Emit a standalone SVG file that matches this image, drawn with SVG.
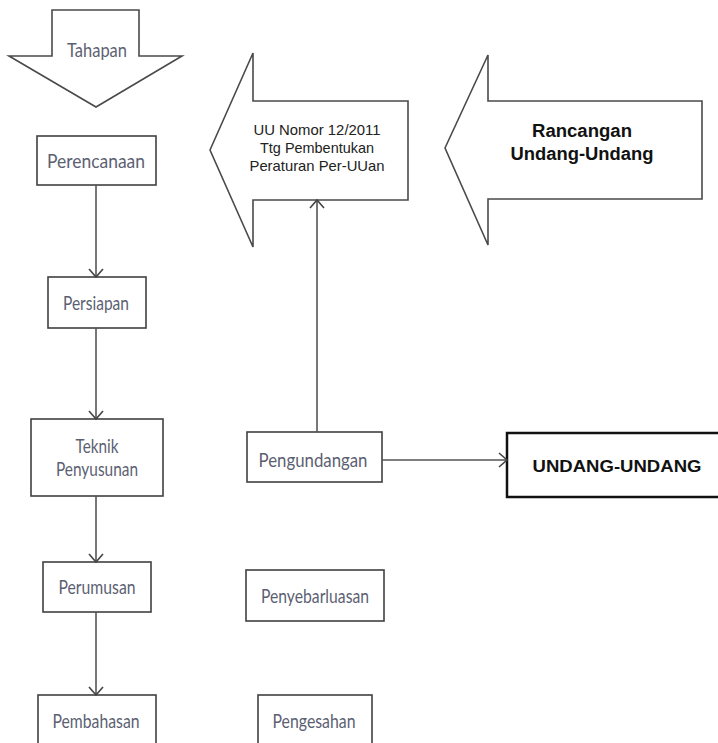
<svg xmlns="http://www.w3.org/2000/svg" width="718" height="743" viewBox="0 0 718 743">
<style>
.bg{fill:#fff}
.box{fill:#fff;stroke:#404040;stroke-width:1.6}
.shape{fill:#fff;stroke:#4a4a4a;stroke-width:1.6;stroke-linejoin:miter}
.lbl{font-family:Lato,"Open Sans","Liberation Sans",sans-serif;font-size:20px;fill:#5c5f72;text-anchor:middle}
.uu{font-family:"Liberation Sans",Arial,sans-serif;font-size:14.5px;fill:#222;text-anchor:middle}
.bold{font-family:"Liberation Sans",Arial,sans-serif;font-weight:bold;fill:#111;text-anchor:middle}
.conn{fill:none;stroke:#555;stroke-width:1.6}
</style>
<defs>
<marker id="open" viewBox="0 0 12 16" refX="10" refY="8" markerWidth="12" markerHeight="16" markerUnits="userSpaceOnUse" orient="auto">
<path d="M2,1 L10,8 L2,15" fill="none" stroke="#444" stroke-width="1.6"/>
</marker>
</defs>
<rect class="bg" x="0" y="0" width="718" height="743"/>

<g id="tahapan">
<path class="shape" d="M52,10 L139,10 L139,56 L182,56 L96,107 L9,56 L52,56 Z"/>
<text class="lbl" x="97" y="57" textLength="60" lengthAdjust="spacingAndGlyphs">Tahapan</text>
</g>

<g id="uu-nomor">
<path class="shape" d="M210,150 L253,53 L253,101 L408,101 L408,200 L253,200 L253,247 Z"/>
<text class="uu" x="317" y="135" textLength="127" lengthAdjust="spacingAndGlyphs">UU Nomor 12/2011</text>
<text class="uu" x="317" y="153" textLength="114" lengthAdjust="spacingAndGlyphs">Ttg Pembentukan</text>
<text class="uu" x="317" y="171" textLength="135" lengthAdjust="spacingAndGlyphs">Peraturan Per-UUan</text>
</g>

<g id="rancangan">
<path class="shape" d="M445,148 L488,55 L488,101 L702,101 L702,199 L488,199 L488,245 Z"/>
<text class="bold" x="582" y="137" font-size="18" textLength="100" lengthAdjust="spacingAndGlyphs">Rancangan</text>
<text class="bold" x="582" y="160" font-size="18" textLength="143" lengthAdjust="spacingAndGlyphs">Undang-Undang</text>
</g>

<g id="perencanaan">
<rect class="box" x="37" y="136" width="119" height="49"/>
<text class="lbl" x="96" y="168" textLength="98" lengthAdjust="spacingAndGlyphs">Perencanaan</text>
</g>

<g id="persiapan">
<rect class="box" x="48" y="277" width="98" height="51"/>
<text class="lbl" x="96" y="310" textLength="66" lengthAdjust="spacingAndGlyphs">Persiapan</text>
</g>

<g id="teknik-penyusunan">
<rect class="box" x="31" y="419" width="132" height="77"/>
<text class="lbl" x="97" y="453" textLength="43" lengthAdjust="spacingAndGlyphs">Teknik</text>
<text class="lbl" x="97" y="476" textLength="82" lengthAdjust="spacingAndGlyphs">Penyusunan</text>
</g>

<g id="perumusan">
<rect class="box" x="43" y="562" width="108" height="50"/>
<text class="lbl" x="97" y="594" textLength="77" lengthAdjust="spacingAndGlyphs">Perumusan</text>
</g>

<g id="pembahasan">
<rect class="box" x="38" y="695" width="118" height="60"/>
<text class="lbl" x="96" y="728" textLength="87" lengthAdjust="spacingAndGlyphs">Pembahasan</text>
</g>

<g id="pengundangan">
<rect class="box" x="247" y="432" width="135" height="50"/>
<text class="lbl" x="313" y="467" textLength="109" lengthAdjust="spacingAndGlyphs">Pengundangan</text>
</g>

<g id="penyebarluasan">
<rect class="box" x="246" y="570" width="138" height="51"/>
<text class="lbl" x="315" y="603" textLength="108" lengthAdjust="spacingAndGlyphs">Penyebarluasan</text>
</g>

<g id="pengesahan">
<rect class="box" x="258" y="695" width="114" height="60"/>
<text class="lbl" x="314" y="728" textLength="83" lengthAdjust="spacingAndGlyphs">Pengesahan</text>
</g>

<g id="undang-undang">
<rect x="507" y="433" width="220" height="64" fill="#fff" stroke="#111" stroke-width="2.5"/>
<text class="bold" x="617" y="472" font-size="17" textLength="169" lengthAdjust="spacingAndGlyphs">UNDANG-UNDANG</text>
</g>

<g id="connectors">
<line class="conn" x1="96" y1="185" x2="96" y2="277" marker-end="url(#open)"/>
<line class="conn" x1="96" y1="328" x2="96" y2="419" marker-end="url(#open)"/>
<line class="conn" x1="96" y1="496" x2="96" y2="562" marker-end="url(#open)"/>
<line class="conn" x1="96" y1="612" x2="96" y2="695" marker-end="url(#open)"/>
<line class="conn" x1="317" y1="432" x2="317" y2="200" marker-end="url(#open)"/>
<line class="conn" x1="382" y1="460" x2="507" y2="460" marker-end="url(#open)"/>
</g>
</svg>
